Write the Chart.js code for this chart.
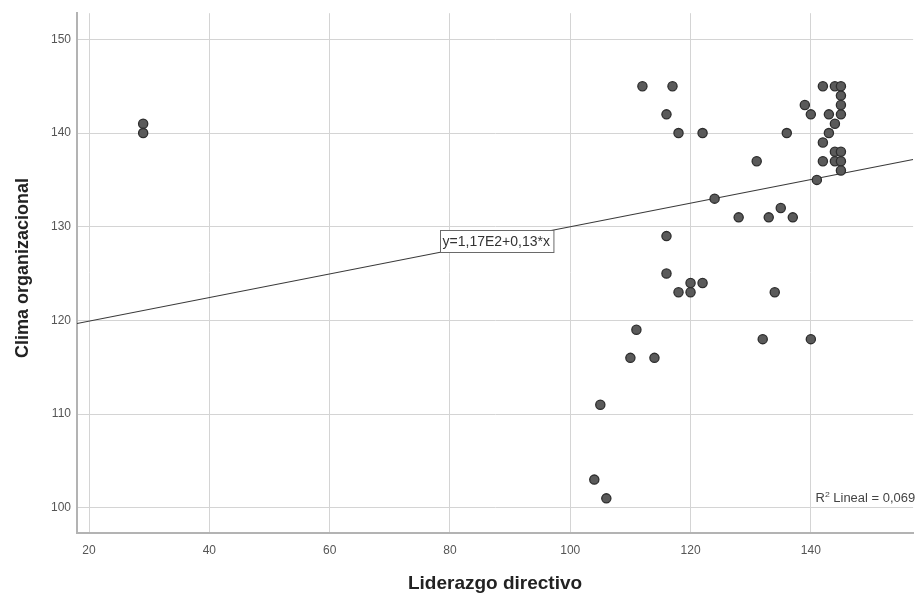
<!DOCTYPE html>
<html><head><meta charset="utf-8">
<script src="https://cdn.jsdelivr.net/npm/chart.js@4"></script>
<style>html,body{margin:0;padding:0;background:#fff;overflow:hidden}</style>
</head><body>
<canvas id="c" width="919" height="595"></canvas>
<script>
// Data
const liderazgo = [29,29,104,106,105,110,114,111,116,116,118,120,120,122,134,132,140,112,117,116,118,122,136,131,124,128,133,135,137,141,142,144,145,145,145,145,139,140,143,144,143,142,144,145,142,144,145,145];
const clima     = [141,140,103,101,111,116,116,119,125,129,123,124,123,124,123,118,118,145,145,142,140,140,140,137,133,131,131,132,131,135,145,145,145,144,143,142,143,142,142,141,140,139,138,138,137,137,137,136];
const xRange = [18, 157];
const yRange = [97.3, 152.8];
const xTickStep = 20;
const yTickStep = 10;
const fitIntercept = 117.4;
const fitSlope = 0.126;
const fitLabel = 'y=1,17E2+0,13*x';
const fitLabelX = 87.7;
const r2Label = ' Lineal = 0,069';
const xTitle = 'Liderazgo directivo';
const yTitle = 'Clima organizacional';

const points = liderazgo.map((v, i) => ({x: v, y: clima[i]}));
const fitLine = xRange.map(v => ({x: v, y: fitIntercept + fitSlope * v}));
const FONT = '"Liberation Sans", Arial, sans-serif';

const annot = {
  id: 'annot',
  afterDatasetsDraw(chart) {
    const {ctx, scales: {x, y}, chartArea} = chart;
    ctx.save();
    // equation box
    const lx = x.getPixelForValue(fitLabelX);
    const ly = y.getPixelForValue(fitIntercept + fitSlope * fitLabelX);
    ctx.font = '14px ' + FONT;
    const w = ctx.measureText(fitLabel).width + 6, h = 22;
    const bx = Math.round(lx - w / 2) + 0.5, by = Math.round(ly - h / 2) + 0.5;
    ctx.fillStyle = '#fff';
    ctx.fillRect(bx, by, w, h);
    ctx.strokeStyle = '#6a6a6a';
    ctx.lineWidth = 1;
    ctx.strokeRect(bx, by, w, h);
    ctx.fillStyle = '#333';
    ctx.textAlign = 'center';
    ctx.textBaseline = 'middle';
    ctx.fillText(fitLabel, lx, ly + 1);
    // R2 label
    ctx.textAlign = 'left';
    ctx.textBaseline = 'alphabetic';
    ctx.font = '12px ' + FONT;
    const rw = ctx.measureText('R').width;
    ctx.font = '8px ' + FONT;
    const sw = ctx.measureText('2').width;
    ctx.font = '12px ' + FONT;
    const tw = ctx.measureText(r2Label).width;
    const sxScale = 1.08;
    const total = (rw + sw + tw) * sxScale;
    const sx = chartArea.right - total + 2;
    const base = y.getPixelForValue(100) - 6;
    ctx.translate(sx, base);
    ctx.scale(sxScale, 1);
    ctx.fillStyle = '#444';
    ctx.fillText('R', 0, 0);
    ctx.font = '8px ' + FONT;
    ctx.fillText('2', rw, -5);
    ctx.font = '12px ' + FONT;
    ctx.fillText(r2Label, rw + sw, 0);
    ctx.restore();
  },
  afterDraw(chart) {
    const {ctx, chartArea} = chart;
    ctx.save();
    ctx.fillStyle = '#222';
    ctx.textAlign = 'center';
    ctx.textBaseline = 'alphabetic';
    ctx.font = 'bold 19px ' + FONT;
    ctx.fillText(xTitle, (chartArea.left + chartArea.right) / 2, chart.height - 6);
    ctx.font = 'bold 18px ' + FONT;
    ctx.translate(28, (chartArea.top + chartArea.bottom) / 2 - 5);
    ctx.rotate(-Math.PI / 2);
    ctx.fillText(yTitle, 0, 0);
    ctx.restore();
  }
};

new Chart(document.getElementById('c'), {
  type: 'scatter',
  data: {
    datasets: [
      {
        type: 'line',
        data: fitLine,
        borderColor: '#3a3a3a',
        borderWidth: 1.2,
        pointRadius: 0,
        fill: false,
        order: 2
      },
      {
        data: points,
        backgroundColor: '#5a5a5a',
        borderColor: '#2e2e2e',
        borderWidth: 1.3,
        pointRadius: 4.6,
        order: 1
      }
    ]
  },
  options: {
    responsive: false,
    animation: false,
    devicePixelRatio: 1,
    layout: {padding: {top: 12, right: 4, left: 0, bottom: 0}},
    plugins: {legend: {display: false}, tooltip: {enabled: false}},
    scales: {
      x: {
        type: 'linear', position: 'bottom',
        min: xRange[0], max: xRange[1],
        ticks: {stepSize: xTickStep, includeBounds: false, color: '#555', padding: 10, font: {family: FONT, size: 12}},
        grid: {color: '#d4d4d4', lineWidth: 1, drawTicks: false},
        border: {color: '#b3b3b3', width: 2},
        afterFit: s => { s.height = 62; }
      },
      y: {
        type: 'linear', position: 'left',
        min: yRange[0], max: yRange[1],
        ticks: {stepSize: yTickStep, includeBounds: false, color: '#555', padding: 6, font: {family: FONT, size: 12}},
        grid: {color: '#d4d4d4', lineWidth: 1, drawTicks: false},
        border: {color: '#b3b3b3', width: 2},
        afterFit: s => { s.width = 77; }
      }
    }
  },
  plugins: [annot]
});
</script>
</body></html>
